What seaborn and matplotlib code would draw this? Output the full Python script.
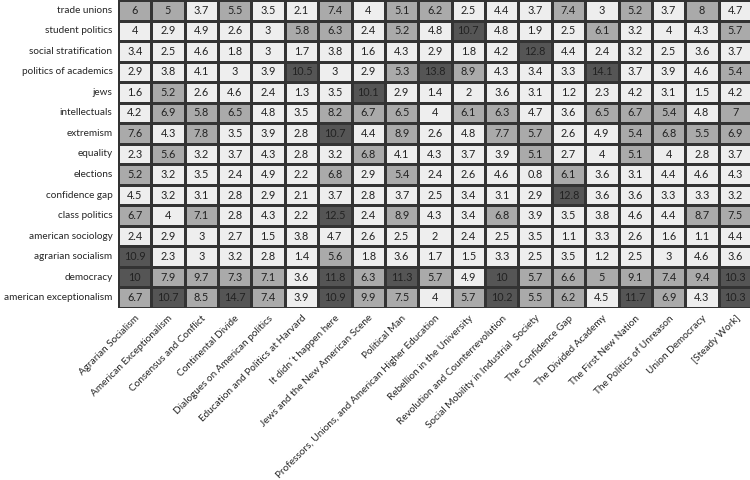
import numpy as np
import pandas as pd
import matplotlib
matplotlib.use("Agg")
import matplotlib.pyplot as plt
from matplotlib.colors import ListedColormap, BoundaryNorm
import seaborn as sns

# ---- data ----
books = [
    "Agrarian Socialism", "American Exceptionalism", "Consensus and Conflict",
    "Continental Divide", "Dialogues on American politics",
    "Education and Politics at Harvard", "It didn\u00b4t happen here",
    "Jews and the New American Scene", "Political Man",
    "Professors, Unions, and American Higher Education",
    "Rebellion in the University", "Revolution and Counterrevolution",
    "Social Mobility in Industrial  Society", "The Confidence Gap",
    "The Divided Academy", "The First New Nation", "The Politics of Unreason",
    "Union Democracy", "[Steady Work]",
]

topics = [
    "trade unions", "student politics", "social stratification",
    "politics of academics", "jews", "intellectuals", "extremism", "equality",
    "elections", "confidence gap", "class politics", "american sociology",
    "agrarian socialism", "democracy", "american exceptionalism",
]

trade_unions = [6, 5, 3.7, 5.5, 3.5, 2.1, 7.4, 4, 5.1, 6.2, 2.5, 4.4, 3.7, 7.4, 3, 5.2, 3.7, 8, 4.7]
student_politics = [4, 2.9, 4.9, 2.6, 3, 5.8, 6.3, 2.4, 5.2, 4.8, 10.7, 4.8, 1.9, 2.5, 6.1, 3.2, 4, 4.3, 5.7]
social_stratification = [3.4, 2.5, 4.6, 1.8, 3, 1.7, 3.8, 1.6, 4.3, 2.9, 1.8, 4.2, 12.8, 4.4, 2.4, 3.2, 2.5, 3.6, 3.7]
politics_of_academics = [2.9, 3.8, 4.1, 3, 3.9, 10.5, 3, 2.9, 5.3, 13.8, 8.9, 4.3, 3.4, 3.3, 14.1, 3.7, 3.9, 4.6, 5.4]
jews = [1.6, 5.2, 2.6, 4.6, 2.4, 1.3, 3.5, 10.1, 2.9, 1.4, 2, 3.6, 3.1, 1.2, 2.3, 4.2, 3.1, 1.5, 4.2]
intellectuals = [4.2, 6.9, 5.8, 6.5, 4.8, 3.5, 8.2, 6.7, 6.5, 4, 6.1, 6.3, 4.7, 3.6, 6.5, 6.7, 5.4, 4.8, 7]
extremism = [7.6, 4.3, 7.8, 3.5, 3.9, 2.8, 10.7, 4.4, 8.9, 2.6, 4.8, 7.7, 5.7, 2.6, 4.9, 5.4, 6.8, 5.5, 6.9]
equality = [2.3, 5.6, 3.2, 3.7, 4.3, 2.8, 3.2, 6.8, 4.1, 4.3, 3.7, 3.9, 5.1, 2.7, 4, 5.1, 4, 2.8, 3.7]
elections = [5.2, 3.2, 3.5, 2.4, 4.9, 2.2, 6.8, 2.9, 5.4, 2.4, 2.6, 4.6, 0.8, 6.1, 3.6, 3.1, 4.4, 4.6, 4.3]
confidence_gap = [4.5, 3.2, 3.1, 2.8, 2.9, 2.1, 3.7, 2.8, 3.7, 2.5, 3.4, 3.1, 2.9, 12.8, 3.6, 3.6, 3.3, 3.3, 3.2]
class_politics = [6.7, 4, 7.1, 2.8, 4.3, 2.2, 12.5, 2.4, 8.9, 4.3, 3.4, 6.8, 3.9, 3.5, 3.8, 4.6, 4.4, 8.7, 7.5]
american_sociology = [2.4, 2.9, 3, 2.7, 1.5, 3.8, 4.7, 2.6, 2.5, 2, 2.4, 2.5, 3.5, 1.1, 3.3, 2.6, 1.6, 1.1, 4.4]
agrarian_socialism = [10.9, 2.3, 3, 3.2, 2.8, 1.4, 5.6, 1.8, 3.6, 1.7, 1.5, 3.3, 2.5, 3.5, 1.2, 2.5, 3, 4.6, 3.6]
democracy = [10, 7.9, 9.7, 7.3, 7.1, 3.6, 11.8, 6.3, 11.3, 5.7, 4.9, 10, 5.7, 6.6, 5, 9.1, 7.4, 9.4, 10.3]
american_exceptionalism = [6.7, 10.7, 8.5, 14.7, 7.4, 3.9, 10.9, 9.9, 7.5, 4, 5.7, 10.2, 5.5, 6.2, 4.5, 11.7, 6.9, 4.3, 10.3]

df = pd.DataFrame(
    [trade_unions, student_politics, social_stratification, politics_of_academics,
     jews, intellectuals, extremism, equality, elections, confidence_gap,
     class_politics, american_sociology, agrarian_socialism, democracy,
     american_exceptionalism],
    index=topics, columns=books,
)

# ---- style ----
sns.set_style("white")
plt.rcParams["font.family"] = ["Lato", "DejaVu Sans"]

cmap = ListedColormap(["#eeeeee", "#aaaaaa", "#555555"])
norm = BoundaryNorm([0, 5, 10, 20], cmap.N)

fig = plt.figure(figsize=(7.5, 4.8), dpi=100)
ax = fig.add_axes([118 / 750, 1 - 308 / 480, 634 / 750, 308 / 480])

sns.heatmap(
    df, ax=ax, cmap=cmap, norm=norm, cbar=False,
    annot=True, fmt="g", annot_kws={"fontsize": 7.8, "color": "#222222"},
    linewidths=0.8, linecolor="#333333",
)

ax.tick_params(axis="both", length=2.5, width=0.8, color="#777777", pad=1.5)
ax.set_xticklabels(ax.get_xticklabels(), rotation=45, ha="right",
                   rotation_mode="anchor", fontsize=7.2)
ax.set_yticklabels(ax.get_yticklabels(), rotation=0, fontsize=7.2)
ax.set_xlabel("")
ax.set_ylabel("")

fig.savefig("out.png", dpi=100)
